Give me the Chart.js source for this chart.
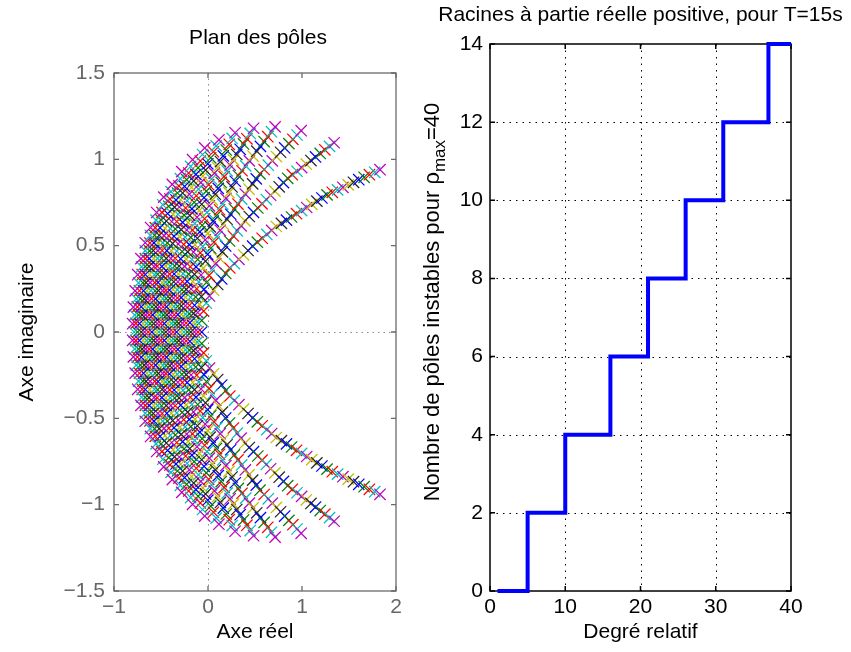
<!DOCTYPE html>
<html><head><meta charset="utf-8">
<script src="https://cdn.jsdelivr.net/npm/chart.js@4.4.1/dist/chart.umd.min.js"></script>
<style>
html,body{margin:0;padding:0;background:#fff;}
#wrap{position:relative;width:851px;height:652px;overflow:hidden;background:#fff;}
canvas{position:absolute;top:0;}
</style></head><body>
<div id="wrap">
<canvas id="poles" width="420" height="652" style="left:0"></canvas>
<canvas id="stairs" width="431" height="652" style="left:420px"></canvas>
</div>
<script>
// ---------- Right panel data ----------
const degrees = [1,2,3,4,5,6,7,8,9,10,11,12,13,14,15,16,17,18,19,20,21,22,23,24,25,26,27,28,29,30,31,32,33,34,35,36,37,38,39,40];
const unstableCounts = [0,0,0,0,2,2,2,2,2,4,4,4,4,4,4,6,6,6,6,6,8,8,8,8,8,10,10,10,10,10,12,12,12,12,12,12,14,14,14,14];
const degreeTicks = [0,10,20,30,40];
const countTicks = [0,2,4,6,8,10,12,14];

// ---------- Left panel data (poles, upper half; conjugates mirrored) ----------
// real poles of the odd degrees 1,3,...,39
const realPoles = [-0.067,-0.106,-0.145,-0.183,-0.219,-0.257,-0.296,-0.334,-0.372,-0.410,-0.448,-0.485,-0.523,-0.561,-0.598,-0.636,-0.674,-0.711,-0.749,-0.786];
// complex branch k starts at degree 2k and runs to degree 40: [re, im]
const poleBranch1 = [[-0.067,0.067],[-0.047,0.121],[-0.018,0.167],[0.016,0.209],[0.059,0.242],[0.103,0.275],[0.146,0.307],[0.189,0.339],[0.232,0.371],[0.281,0.396],[0.329,0.421],[0.378,0.447],[0.426,0.472],[0.475,0.497],[0.525,0.520],[0.576,0.543],[0.626,0.565],[0.677,0.588],[0.727,0.611],[0.781,0.629],[0.835,0.648],[0.889,0.666],[0.942,0.685],[0.996,0.703],[1.050,0.721],[1.104,0.739],[1.158,0.758],[1.212,0.776],[1.266,0.794],[1.322,0.809],[1.379,0.823],[1.435,0.838],[1.492,0.852],[1.548,0.867],[1.604,0.882],[1.661,0.896],[1.717,0.911],[1.774,0.925],[1.830,0.940]];
const poleBranch2 = [[-0.115,0.059],[-0.110,0.113],[-0.090,0.160],[-0.070,0.206],[-0.043,0.247],[-0.016,0.287],[0.011,0.328],[0.046,0.362],[0.082,0.396],[0.117,0.430],[0.153,0.464],[0.188,0.498],[0.229,0.527],[0.270,0.556],[0.311,0.586],[0.352,0.615],[0.393,0.644],[0.439,0.669],[0.484,0.693],[0.530,0.718],[0.575,0.742],[0.621,0.767],[0.666,0.792],[0.712,0.816],[0.757,0.841],[0.803,0.865],[0.848,0.890],[0.897,0.911],[0.947,0.931],[0.996,0.952],[1.046,0.972],[1.095,0.993],[1.144,1.014],[1.194,1.034],[1.243,1.055],[1.293,1.075],[1.342,1.096]];
const poleBranch3 = [[-0.152,0.055],[-0.154,0.108],[-0.143,0.155],[-0.131,0.203],[-0.120,0.250],[-0.097,0.290],[-0.074,0.330],[-0.050,0.370],[-0.027,0.410],[-0.004,0.450],[0.029,0.485],[0.063,0.520],[0.096,0.554],[0.130,0.589],[0.163,0.624],[0.202,0.653],[0.241,0.682],[0.280,0.712],[0.319,0.741],[0.358,0.770],[0.397,0.799],[0.436,0.828],[0.475,0.858],[0.514,0.887],[0.553,0.916],[0.597,0.941],[0.641,0.966],[0.684,0.991],[0.728,1.016],[0.772,1.041],[0.816,1.066],[0.860,1.091],[0.903,1.116],[0.947,1.141],[0.991,1.166]];
const poleBranch4 = [[-0.193,0.054],[-0.199,0.105],[-0.197,0.155],[-0.186,0.201],[-0.180,0.249],[-0.162,0.292],[-0.144,0.334],[-0.127,0.377],[-0.109,0.420],[-0.083,0.458],[-0.056,0.496],[-0.030,0.533],[-0.003,0.571],[0.023,0.609],[0.056,0.642],[0.090,0.675],[0.123,0.708],[0.156,0.741],[0.190,0.774],[0.223,0.807],[0.256,0.840],[0.290,0.873],[0.323,0.906],[0.362,0.934],[0.401,0.962],[0.440,0.991],[0.479,1.019],[0.519,1.047],[0.558,1.075],[0.597,1.103],[0.636,1.131],[0.675,1.160],[0.714,1.188]];
const poleBranch5 = [[-0.233,0.052],[-0.240,0.103],[-0.240,0.152],[-0.239,0.201],[-0.231,0.247],[-0.222,0.293],[-0.205,0.335],[-0.188,0.378],[-0.172,0.420],[-0.155,0.463],[-0.138,0.505],[-0.113,0.543],[-0.087,0.580],[-0.062,0.618],[-0.036,0.656],[-0.011,0.693],[0.015,0.731],[0.046,0.765],[0.078,0.798],[0.109,0.832],[0.141,0.866],[0.172,0.900],[0.204,0.933],[0.235,0.967],[0.271,0.997],[0.306,1.028],[0.342,1.058],[0.378,1.089],[0.414,1.119],[0.449,1.150],[0.485,1.180]];
const poleBranch6 = [[-0.272,0.051],[-0.282,0.102],[-0.284,0.151],[-0.285,0.199],[-0.278,0.245],[-0.272,0.292],[-0.265,0.338],[-0.249,0.380],[-0.232,0.422],[-0.216,0.464],[-0.199,0.506],[-0.183,0.548],[-0.166,0.590],[-0.141,0.628],[-0.117,0.665],[-0.092,0.703],[-0.067,0.740],[-0.042,0.778],[-0.018,0.816],[0.007,0.853],[0.038,0.886],[0.069,0.920],[0.101,0.953],[0.132,0.987],[0.163,1.020],[0.194,1.054],[0.226,1.087],[0.257,1.121],[0.288,1.154]];
const poleBranch7 = [[-0.312,0.050],[-0.321,0.101],[-0.323,0.149],[-0.325,0.197],[-0.327,0.245],[-0.320,0.291],[-0.314,0.336],[-0.307,0.382],[-0.291,0.424],[-0.275,0.466],[-0.259,0.507],[-0.243,0.549],[-0.226,0.591],[-0.210,0.633],[-0.194,0.675],[-0.171,0.713],[-0.147,0.751],[-0.124,0.789],[-0.101,0.827],[-0.077,0.865],[-0.054,0.903],[-0.026,0.938],[-0.002,0.974],[0.029,1.009],[0.058,1.044],[0.087,1.078],[0.116,1.113]];
const poleBranch8 = [[-0.350,0.050],[-0.360,0.100],[-0.364,0.148],[-0.367,0.197],[-0.371,0.245],[-0.365,0.291],[-0.360,0.336],[-0.354,0.382],[-0.349,0.427],[-0.333,0.469],[-0.317,0.510],[-0.301,0.552],[-0.285,0.593],[-0.270,0.635],[-0.254,0.677],[-0.238,0.718],[-0.222,0.760],[-0.199,0.798],[-0.175,0.837],[-0.152,0.875],[-0.129,0.913],[-0.105,0.951],[-0.082,0.990],[-0.058,1.028],[-0.035,1.066]];
const poleBranch9 = [[-0.388,0.050],[-0.398,0.100],[-0.402,0.148],[-0.406,0.195],[-0.410,0.243],[-0.414,0.290],[-0.408,0.335],[-0.402,0.381],[-0.396,0.426],[-0.390,0.471],[-0.376,0.513],[-0.362,0.555],[-0.348,0.597],[-0.333,0.640],[-0.319,0.682],[-0.305,0.724],[-0.291,0.766],[-0.270,0.805],[-0.249,0.843],[-0.227,0.882],[-0.206,0.921],[-0.185,0.959],[-0.164,0.998]];
const poleBranch10 = [[-0.427,0.049],[-0.437,0.099],[-0.441,0.146],[-0.445,0.194],[-0.448,0.241],[-0.452,0.289],[-0.456,0.336],[-0.450,0.381],[-0.444,0.426],[-0.438,0.471],[-0.432,0.516],[-0.417,0.557],[-0.401,0.599],[-0.386,0.640],[-0.371,0.681],[-0.356,0.723],[-0.340,0.764],[-0.325,0.805],[-0.310,0.846],[-0.294,0.888],[-0.279,0.929]];
const poleBranch11 = [[-0.465,0.049],[-0.475,0.099],[-0.478,0.146],[-0.480,0.193],[-0.483,0.240],[-0.486,0.286],[-0.488,0.333],[-0.491,0.380],[-0.494,0.427],[-0.488,0.472],[-0.481,0.516],[-0.468,0.558],[-0.456,0.601],[-0.443,0.643],[-0.430,0.686],[-0.418,0.728],[-0.405,0.770],[-0.393,0.813],[-0.380,0.855]];
const poleBranch12 = [[-0.503,0.049],[-0.513,0.099],[-0.518,0.146],[-0.522,0.193],[-0.527,0.240],[-0.532,0.287],[-0.536,0.334],[-0.541,0.381],[-0.537,0.426],[-0.533,0.471],[-0.529,0.516],[-0.519,0.560],[-0.510,0.604],[-0.500,0.649],[-0.490,0.693],[-0.481,0.737],[-0.471,0.781]];
const poleBranch13 = [[-0.540,0.049],[-0.550,0.099],[-0.554,0.146],[-0.558,0.192],[-0.562,0.239],[-0.566,0.286],[-0.570,0.332],[-0.574,0.379],[-0.578,0.426],[-0.582,0.472],[-0.575,0.516],[-0.568,0.560],[-0.561,0.604],[-0.553,0.648],[-0.546,0.692]];
const poleBranch14 = [[-0.578,0.049],[-0.588,0.099],[-0.595,0.146],[-0.601,0.193],[-0.608,0.240],[-0.615,0.286],[-0.621,0.333],[-0.628,0.380],[-0.625,0.425],[-0.621,0.470],[-0.618,0.515],[-0.614,0.560],[-0.611,0.605]];
const poleBranch15 = [[-0.616,0.049],[-0.626,0.099],[-0.634,0.146],[-0.642,0.193],[-0.651,0.239],[-0.659,0.286],[-0.667,0.333],[-0.667,0.379],[-0.667,0.425],[-0.668,0.471],[-0.668,0.517]];
const poleBranch16 = [[-0.654,0.049],[-0.664,0.099],[-0.671,0.146],[-0.678,0.192],[-0.686,0.239],[-0.693,0.285],[-0.700,0.332],[-0.707,0.378],[-0.714,0.425]];
const poleBranch17 = [[-0.691,0.049],[-0.701,0.099],[-0.710,0.146],[-0.720,0.192],[-0.729,0.239],[-0.739,0.285],[-0.748,0.332]];
const poleBranch18 = [[-0.729,0.049],[-0.739,0.099],[-0.751,0.145],[-0.763,0.192],[-0.775,0.238]];
const poleBranch19 = [[-0.767,0.050],[-0.779,0.098],[-0.794,0.144]];
const poleBranch20 = [[-0.802,0.048]];
const reTicks = [-1,0,1,2];
const imTicks = [-1.5,-1,-0.5,0,0.5,1,1.5];

// ---------- styles ----------
const colorOrder = ['#0000ff','#008000','#ff0000','#00bfbf','#bf00bf','#bfbf00','#262626'];
const FONT = "'Liberation Sans', Arial, Helvetica, sans-serif";
const FS = 21;

// ---------- build per-degree datasets ----------
const branches = [poleBranch1,poleBranch2,poleBranch3,poleBranch4,poleBranch5,poleBranch6,poleBranch7,poleBranch8,poleBranch9,poleBranch10,
  poleBranch11,poleBranch12,poleBranch13,poleBranch14,poleBranch15,poleBranch16,poleBranch17,poleBranch18,poleBranch19,poleBranch20];
const perDegree = degrees.map(() => []);
realPoles.forEach((re, i) => perDegree[2 * i].push({x: re, y: 0}));
branches.forEach((br, k) => br.forEach(([re, im], i) => {
  const deg = 2 * (k + 1) + i;
  perDegree[deg - 1].push({x: re, y: im}, {x: re, y: -im});
}));
const poleDatasets = degrees.map((d, i) => {
  const c = colorOrder[i % colorOrder.length];
  return {data: perDegree[i], pointStyle: 'crossRot', pointRadius: 8, pointBorderWidth: 1.25,
    borderColor: c, backgroundColor: c, order: degrees.length - d};
});

function fmt(v) { const r = Math.round(v * 100) / 100; return (r < 0 ? '\u2212' : '') + Math.abs(r); }

function drawRich(ctx, parts, x, y, rot) {
  ctx.save(); ctx.translate(x, y); ctx.rotate(rot || 0);
  ctx.textBaseline = 'alphabetic'; ctx.textAlign = 'left';
  let total = 0;
  parts.forEach(p => { ctx.font = p.font; p.w = ctx.measureText(p.text).width; total += p.w; });
  let cx = -total / 2;
  parts.forEach(p => { ctx.font = p.font; ctx.fillStyle = '#000'; ctx.fillText(p.text, cx, p.dy || 0); cx += p.w; });
  ctx.restore();
}

function makeFrame(cfg) {
  return {
    id: 'frame',
    beforeDatasetsDraw(chart) {
      const {ctx, chartArea: a} = chart;
      const sx = chart.scales.x, sy = chart.scales.y;
      ctx.save();
      ctx.lineWidth = 1; ctx.strokeStyle = cfg.gridColor; ctx.setLineDash(cfg.dash);
      cfg.gridX.forEach(v => { const p = Math.round(sx.getPixelForValue(v)) + 0.5; ctx.beginPath(); ctx.moveTo(p, a.top); ctx.lineTo(p, a.bottom); ctx.stroke(); });
      cfg.gridY.forEach(v => { const p = Math.round(sy.getPixelForValue(v)) + 0.5; ctx.beginPath(); ctx.moveTo(a.left, p); ctx.lineTo(a.right, p); ctx.stroke(); });
      ctx.setLineDash([]);
      ctx.strokeStyle = cfg.axisColor; ctx.lineWidth = cfg.axisWidth;
      ctx.strokeRect(a.left, a.top, a.right - a.left, a.bottom - a.top);
      const L = 5;
      ctx.beginPath();
      cfg.ticksX.forEach(v => { const p = sx.getPixelForValue(v); ctx.moveTo(p, a.bottom); ctx.lineTo(p, a.bottom - L); ctx.moveTo(p, a.top); ctx.lineTo(p, a.top + L); });
      cfg.ticksY.forEach(v => { const p = sy.getPixelForValue(v); ctx.moveTo(a.left, p); ctx.lineTo(a.left + L, p); ctx.moveTo(a.right, p); ctx.lineTo(a.right - L, p); });
      ctx.stroke();
      ctx.restore();
    },
    afterDraw(chart) {
      const ctx = chart.ctx;
      cfg.texts.forEach(t => drawRich(ctx, t.parts, t.x, t.y, t.rot));
    }
  };
}

const f = (s) => `${s}px ${FONT}`;

// ---------- left chart ----------
new Chart(document.getElementById('poles'), {
  type: 'scatter',
  data: {datasets: poleDatasets},
  options: {
    responsive: false, animation: false, devicePixelRatio: 1, events: [],
    layout: {padding: {top: 73, right: 24, bottom: 0, left: 0}},
    plugins: {legend: {display: false}, tooltip: {enabled: false}},
    scales: {
      x: {type: 'linear', min: -1, max: 2, afterFit: s => { s.height = 61; },
        grid: {display: false, drawTicks: false}, border: {display: false},
        afterBuildTicks: s => { s.ticks = reTicks.map(v => ({value: v})); },
        ticks: {padding: 4, color: '#666666', font: {family: FONT, size: FS}, callback: fmt, autoSkip: false, maxRotation: 0, minRotation: 0}},
      y: {type: 'linear', min: -1.5, max: 1.5, afterFit: s => { s.width = 114; },
        grid: {display: false, drawTicks: false}, border: {display: false},
        afterBuildTicks: s => { s.ticks = imTicks.map(v => ({value: v})); },
        ticks: {padding: 9, color: '#666666', font: {family: FONT, size: FS}, callback: fmt, autoSkip: false}}
    }
  },
  plugins: [makeFrame({
    gridX: [0], gridY: [0], gridColor: '#8a8a8a', dash: [1.5, 4],
    axisColor: '#6a6a6a', axisWidth: 1.3, ticksX: reTicks, ticksY: imTicks,
    texts: [
      {parts: [{text: 'Plan des pôles', font: f(FS)}], x: 258, y: 44},
      {parts: [{text: 'Axe réel', font: f(FS)}], x: 255, y: 638},
      {parts: [{text: 'Axe imaginaire', font: f(FS)}], x: 33, y: 332, rot: -Math.PI / 2}
    ]
  })]
});

// ---------- right chart ----------
new Chart(document.getElementById('stairs'), {
  type: 'line',
  data: {datasets: [{
    data: degrees.map((d, i) => ({x: d, y: unstableCounts[i]})),
    stepped: true, borderColor: '#0000ff', backgroundColor: '#0000ff', borderWidth: 4,
    pointRadius: 0, fill: false, clip: false, borderJoinStyle: 'miter', borderCapStyle: 'butt'
  }]},
  options: {
    responsive: false, animation: false, devicePixelRatio: 1, events: [],
    layout: {padding: {top: 44, right: 60, bottom: 0, left: 0}},
    plugins: {legend: {display: false}, tooltip: {enabled: false}},
    scales: {
      x: {type: 'linear', min: 0, max: 40, afterFit: s => { s.height = 61; },
        grid: {display: false, drawTicks: false}, border: {display: false},
        afterBuildTicks: s => { s.ticks = degreeTicks.map(v => ({value: v})); },
        ticks: {padding: 4, color: '#000', font: {family: FONT, size: FS}, callback: fmt, autoSkip: false, maxRotation: 0, minRotation: 0}},
      y: {type: 'linear', min: 0, max: 14, afterFit: s => { s.width = 70; },
        grid: {display: false, drawTicks: false}, border: {display: false},
        afterBuildTicks: s => { s.ticks = countTicks.map(v => ({value: v})); },
        ticks: {padding: 7, color: '#000', font: {family: FONT, size: FS}, callback: fmt, autoSkip: false}}
    }
  },
  plugins: [makeFrame({
    gridX: [10, 20, 30], gridY: [2, 4, 6, 8, 10, 12], gridColor: '#000', dash: [1.5, 5],
    axisColor: '#000', axisWidth: 1.5, ticksX: degreeTicks, ticksY: countTicks,
    texts: [
      {parts: [{text: 'Racines à partie réelle positive, pour T=15s', font: f(FS)}], x: 220.5, y: 21},
      {parts: [{text: 'Degré relatif', font: f(FS)}], x: 220.5, y: 638},
      {parts: [{text: 'Nombre de pôles instables pour ρ', font: f(22)}, {text: 'max', font: f(17), dy: 6}, {text: '=40', font: f(22)}], x: 19, y: 302, rot: -Math.PI / 2}
    ]
  })]
});
</script>
</body></html>
